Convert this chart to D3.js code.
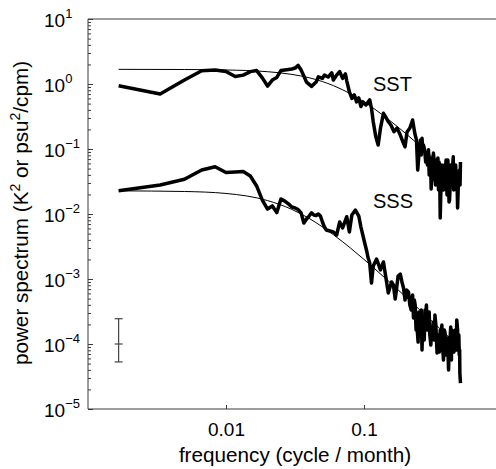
<!DOCTYPE html>
<html>
<head>
<meta charset="utf-8">
<script src="https://cdn.jsdelivr.net/npm/d3@7/dist/d3.min.js"></script>
<style>
  html, body { margin: 0; padding: 0; background: #fff; }
  svg { display: block; font-family: "Liberation Sans", Arial, Helvetica, sans-serif; }
</style>
</head>
<body>
<svg id="chart" width="496" height="469"></svg>
<script>
// ---------------- data ----------------
const sstFreq = [
  0.001667, 0.003333, 0.005, 0.006667, 0.008333, 0.01, 0.011667, 0.013333, 0.015, 0.016667,
  0.018333, 0.02, 0.021667, 0.023333, 0.025, 0.026667, 0.028333, 0.03, 0.031667, 0.033333,
  0.035, 0.036667, 0.038333, 0.041667, 0.045, 0.046667, 0.05, 0.051667, 0.055, 0.058333,
  0.06, 0.063333, 0.066667, 0.07, 0.073333, 0.075, 0.078333, 0.081667, 0.085, 0.088333,
  0.091667, 0.095, 0.098333, 0.103333, 0.11, 0.113333, 0.116667, 0.121667, 0.126667, 0.131667,
  0.138333, 0.145, 0.15, 0.156667, 0.165, 0.173333, 0.183333, 0.191667, 0.198333, 0.205,
  0.215, 0.225, 0.233333, 0.24, 0.245, 0.248333, 0.251667, 0.256667, 0.26, 0.263333,
  0.266667, 0.27, 0.275, 0.28, 0.285, 0.288333, 0.293333, 0.296667, 0.3, 0.303333,
  0.306667, 0.311667, 0.315, 0.318333, 0.321667, 0.325, 0.33, 0.333333, 0.338333, 0.343333,
  0.346667, 0.35, 0.353333, 0.356667, 0.36, 0.363333, 0.366667, 0.371667, 0.376667, 0.38,
  0.383333, 0.39, 0.393333, 0.396667, 0.4, 0.405, 0.408333, 0.413333, 0.416667, 0.42,
  0.423333, 0.426667, 0.43, 0.433333, 0.438333, 0.443333, 0.446667, 0.45, 0.453333, 0.456667,
  0.461667, 0.466667, 0.471667, 0.476667, 0.48, 0.483333, 0.486667, 0.491667, 0.496667, 0.5
];
const sstPower = [
  0.94, 0.70, 1.15, 1.60, 1.64, 1.56, 1.30, 1.37, 1.55, 1.61,
  1.24, 0.93, 1.15, 1.26, 1.61, 1.64, 1.67, 1.70, 1.76, 1.93,
  1.64, 1.33, 1.07, 0.92, 1.07, 1.29, 1.22, 1.37, 1.28, 1.49,
  1.15, 1.37, 1.55, 1.22, 1.43, 1.12, 0.76, 0.60, 0.68, 0.53,
  0.61, 0.45, 0.53, 0.475, 0.57, 0.42, 0.263, 0.155, 0.115, 0.21,
  0.354, 0.30, 0.263, 0.234, 0.185, 0.21, 0.164, 0.128, 0.108, 0.183,
  0.21, 0.28, 0.175, 0.138, 0.0475, 0.0678, 0.0966, 0.138, 0.081, 0.146,
  0.097, 0.115, 0.097, 0.063, 0.076, 0.0567, 0.097, 0.0398, 0.0678, 0.0728,
  0.0243, 0.0475, 0.0333, 0.0867, 0.0678, 0.0567, 0.0279, 0.0678, 0.0398, 0.0728,
  0.0234, 0.063, 0.051, 0.0087, 0.0196, 0.0333, 0.0567, 0.0475, 0.0234, 0.0333,
  0.0567, 0.051, 0.0678, 0.0263, 0.0196, 0.0678, 0.0475, 0.0153, 0.0164, 0.0234,
  0.0398, 0.0567, 0.0279, 0.0443, 0.051, 0.076, 0.0234, 0.0567, 0.0398, 0.0279,
  0.0567, 0.0234, 0.0358, 0.0124, 0.0196, 0.0333, 0.0398, 0.0475, 0.0279, 0.063
];
const sssFreq = [
  0.001667, 0.003333, 0.005, 0.006667, 0.008333, 0.01, 0.011667, 0.013333, 0.015, 0.016667,
  0.018333, 0.02, 0.021667, 0.023333, 0.025, 0.026667, 0.028333, 0.03, 0.031667, 0.033333,
  0.035, 0.036667, 0.038333, 0.04, 0.041667, 0.043333, 0.045, 0.046667, 0.048333, 0.05,
  0.051667, 0.053333, 0.056667, 0.06, 0.063333, 0.066667, 0.07, 0.075, 0.078333, 0.081667,
  0.086667, 0.091667, 0.095, 0.1, 0.105, 0.106667, 0.11, 0.113333, 0.116667, 0.123333,
  0.131667, 0.138333, 0.145, 0.15, 0.158333, 0.163333, 0.168333, 0.171667, 0.176667, 0.183333,
  0.188333, 0.193333, 0.198333, 0.203333, 0.21, 0.215, 0.22, 0.225, 0.228333, 0.231667,
  0.235, 0.238333, 0.241667, 0.246667, 0.25, 0.253333, 0.256667, 0.26, 0.263333, 0.266667,
  0.27, 0.273333, 0.276667, 0.28, 0.283333, 0.286667, 0.291667, 0.296667, 0.3, 0.305,
  0.31, 0.315, 0.318333, 0.323333, 0.326667, 0.331667, 0.338333, 0.343333, 0.346667, 0.351667,
  0.356667, 0.361667, 0.366667, 0.371667, 0.376667, 0.381667, 0.386667, 0.391667, 0.396667, 0.403333,
  0.41, 0.413333, 0.416667, 0.42, 0.425, 0.43, 0.433333, 0.438333, 0.443333, 0.448333,
  0.453333, 0.458333, 0.461667, 0.466667, 0.47, 0.473333, 0.476667, 0.48, 0.483333, 0.486667,
  0.49, 0.493333, 0.495, 0.5
];
const sssPower = [
  0.0228, 0.0279, 0.0342, 0.0475, 0.0534, 0.0435, 0.0443, 0.0451, 0.0384, 0.0270,
  0.0164, 0.0119, 0.0133, 0.0105, 0.0170, 0.0158, 0.0143, 0.0128, 0.0124, 0.0117,
  0.0104, 0.00727, 0.00838, 0.00931, 0.0104, 0.00966, 0.00948, 0.0100, 0.00931, 0.00753,
  0.0063, 0.00567, 0.00547, 0.00528, 0.00475, 0.00753, 0.0061, 0.00908, 0.00528, 0.00966,
  0.0115, 0.00931, 0.0063, 0.00398, 0.0026, 0.00218, 0.00176, 0.000868, 0.00158, 0.00203,
  0.00138, 0.00183, 0.000966, 0.00061, 0.0009, 0.00081, 0.000492, 0.000678, 0.00111, 0.00119,
  0.0009, 0.000728, 0.000475, 0.000678, 0.00063, 0.000398, 0.000333, 0.000568, 0.000251, 0.000475,
  0.000398, 0.000164, 0.000196, 0.000107, 0.00031, 0.000234, 0.000137, 0.000333, 0.0000809, 0.000251,
  0.000196, 0.000115, 0.000333, 0.000279, 0.000398, 0.000164, 0.000251, 0.00031, 0.000137, 0.0000966,
  0.000183, 0.000164, 0.000218, 0.000115, 0.000279, 0.000196, 0.0000727, 0.000137, 0.000115, 0.0000753,
  0.000164, 0.000124, 0.000196, 0.0000867, 0.0000567, 0.000164, 0.000148, 0.0000678, 0.0000966, 0.000124,
  0.0000398, 0.0000809, 0.0000678, 0.000115, 0.000183, 0.0000567, 0.000164, 0.000153, 0.000128, 0.0000753,
  0.0000966, 0.000164, 0.000137, 0.0000809, 0.000234, 0.000196, 0.000164, 0.0000966, 0.00009, 0.000137,
  0.0000678, 0.0000809, 0.0000358, 0.0000251
];
// fitted (smooth) spectra
const fitFreq = [0.001667, 0.005, 0.01, 0.02, 0.03, 0.04, 0.05, 0.06, 0.07, 0.08,
                 0.1, 0.12, 0.15, 0.2, 0.25, 0.3, 0.4, 0.5];
const sstFit = [1.68, 1.671, 1.644, 1.546, 1.406, 1.248, 1.09, 0.944, 0.816, 0.705,
                0.531, 0.408, 0.286, 0.174, 0.1157, 0.0821, 0.0472, 0.0305];
const sssFit = [0.0227, 0.0222, 0.0207, 0.0161, 0.01177, 0.00856, 0.00633, 0.0048, 0.00374, 0.00298,
                0.0020, 0.001427, 0.000934, 0.000535, 0.000345, 0.000241, 0.000136, 0.0000874];
// confidence interval bar
const errFreq = 0.001667;
const errMid = 1e-4, errLow = 5.3e-5, errHigh = 2.45e-4;
// ticks and labels
const xTicks = [0.01, 0.1];
const xTickLabels = ["0.01", "0.1"];
const yExponents = [-5, -4, -3, -2, -1, 0, 1];
const seriesLabels = [
  { text: "SST", freq: 0.135, value: 0.78 },
  { text: "SSS", freq: 0.135, value: 0.0125 }
];

// ---------------- drawing ----------------
const svg = d3.select("#chart");
const W = 496, H = 469;
const mLeft = 88, mTop = 19, mBottom = 409, mRight = 502;

const x = d3.scaleLog().domain([0.001, 1]).range([mLeft, mRight]);
const y = d3.scaleLog().domain([1e-5, 10]).range([mBottom, mTop]);

const axisColor = "#3a3a3a";

// minor y ticks (inside)
const minorY = [];
for (let e = -5; e < 1; e++) for (let m = 2; m <= 9; m++) minorY.push(m * Math.pow(10, e));
const gMinor = svg.append("g").attr("transform", `translate(${mLeft},0)`)
  .call(d3.axisRight(y).tickValues(minorY).tickSize(3).tickFormat(""));
gMinor.select(".domain").remove();
gMinor.selectAll("line").attr("stroke", axisColor);

// major y ticks (inside)
const majorY = yExponents.map(e => Math.pow(10, e));
const gMajor = svg.append("g").attr("transform", `translate(${mLeft},0)`)
  .call(d3.axisRight(y).tickValues(majorY).tickSize(5).tickFormat(""));
gMajor.select(".domain").remove();
gMajor.selectAll("line").attr("stroke", axisColor);

// x ticks (inside)
const gX = svg.append("g").attr("transform", `translate(0,${mBottom})`)
  .call(d3.axisTop(x).tickValues(xTicks).tickSize(4).tickFormat(""));
gX.select(".domain").remove();
gX.selectAll("line").attr("stroke", axisColor);

// x tick labels
const gXL = svg.append("g").attr("transform", `translate(0,${mBottom})`)
  .call(d3.axisBottom(x).tickValues(xTicks).tickSize(0)
        .tickFormat((d, i) => xTickLabels[i]));
gXL.select(".domain").remove();
gXL.selectAll("text")
  .attr("y", 26.7).attr("dy", null)
  .attr("font-size", 19).attr("fill", "#000")
  .attr("font-family", "'Liberation Sans', Arial, sans-serif");

// y tick labels  10^n
const yl = svg.append("g");
yExponents.forEach(e => {
  const t = yl.append("text")
    .attr("x", 44).attr("y", y(Math.pow(10, e)) + 8)
    .attr("font-size", 19).attr("fill", "#000");
  t.append("tspan").text("10");
  t.append("tspan").attr("dy", -9).attr("font-size", 13)
    .text(e < 0 ? "\u2212" + Math.abs(e) : String(e));
});

// frame lines (left, top, bottom)
svg.append("line").attr("x1", mLeft).attr("x2", mLeft).attr("y1", mTop).attr("y2", mBottom)
  .attr("stroke", axisColor).attr("stroke-width", 1);
svg.append("line").attr("x1", mLeft).attr("x2", W).attr("y1", mTop).attr("y2", mTop)
  .attr("stroke", axisColor).attr("stroke-width", 1);
svg.append("line").attr("x1", mLeft).attr("x2", W).attr("y1", mBottom).attr("y2", mBottom)
  .attr("stroke", axisColor).attr("stroke-width", 1);

// lines
const thick = d3.line().x(d => x(d[0])).y(d => y(d[1]));
const smooth = d3.line().x(d => x(d[0])).y(d => y(d[1])).curve(d3.curveMonotoneX);

svg.append("path").datum(fitFreq.map((f, i) => [f, sstFit[i]]))
  .attr("d", smooth).attr("fill", "none").attr("stroke", "#000").attr("stroke-width", 1);
svg.append("path").datum(fitFreq.map((f, i) => [f, sssFit[i]]))
  .attr("d", smooth).attr("fill", "none").attr("stroke", "#000").attr("stroke-width", 1);

svg.append("path").datum(sstFreq.map((f, i) => [f, sstPower[i]]))
  .attr("d", thick).attr("fill", "none").attr("stroke", "#000")
  .attr("stroke-width", 3.5).attr("stroke-linejoin", "round");
svg.append("path").datum(sssFreq.map((f, i) => [f, sssPower[i]]))
  .attr("d", thick).attr("fill", "none").attr("stroke", "#000")
  .attr("stroke-width", 3.5).attr("stroke-linejoin", "round");

// error bar
const ex = x(errFreq);
const eb = svg.append("g").attr("stroke", "#444").attr("stroke-width", 1.2);
eb.append("line").attr("x1", ex).attr("x2", ex).attr("y1", y(errHigh)).attr("y2", y(errLow));
[errHigh, errMid, errLow].forEach(v => {
  eb.append("line").attr("x1", ex - 4).attr("x2", ex + 4).attr("y1", y(v)).attr("y2", y(v));
});

// series labels
seriesLabels.forEach(s => {
  svg.append("text").attr("x", x(s.freq) - 9).attr("y", y(s.value))
    .attr("font-size", 20).attr("fill", "#000").text(s.text);
});

// axis titles
svg.append("text").attr("x", (mLeft + mRight) / 2).attr("y", 461.5)
  .attr("text-anchor", "middle").attr("font-size", 20.7).attr("fill", "#000")
  .text("frequency (cycle / month)");

const yt = svg.append("text")
  .attr("transform", `translate(28,${(mTop + mBottom) / 2 - 1}) rotate(-90)`)
  .attr("text-anchor", "middle").attr("font-size", 20.7).attr("fill", "#000");
yt.append("tspan").text("power spectrum (K");
yt.append("tspan").attr("font-size", 14).attr("dy", -8).text("2");
yt.append("tspan").attr("dy", 8).text(" or psu");
yt.append("tspan").attr("font-size", 14).attr("dy", -8).text("2");
yt.append("tspan").attr("dy", 8).text("/cpm)");
</script>
</body>
</html>
